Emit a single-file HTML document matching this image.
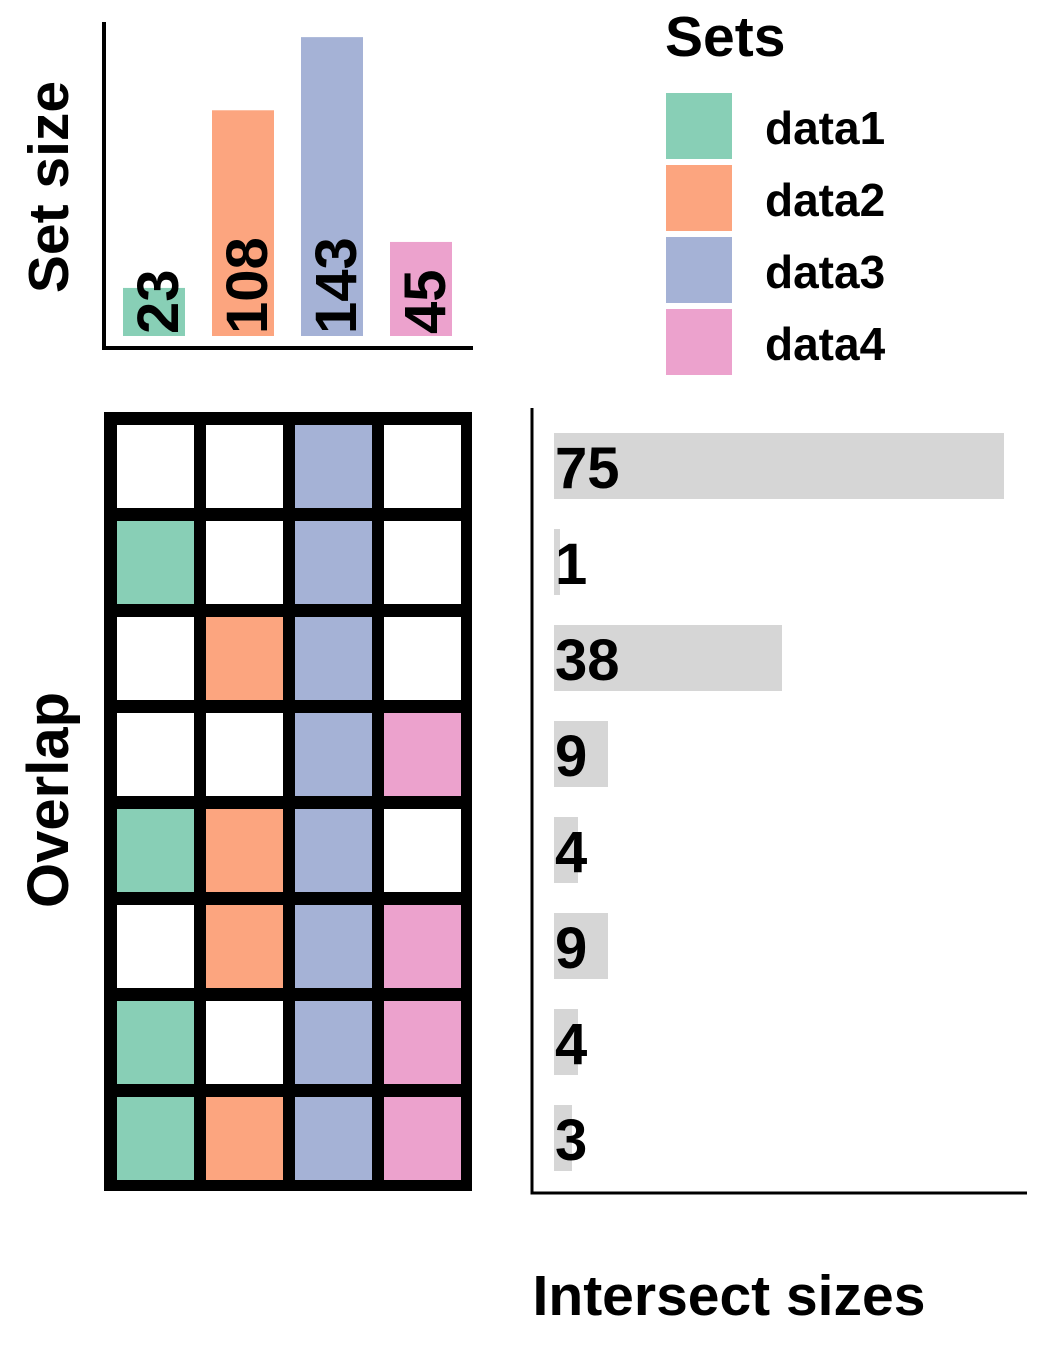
<!DOCTYPE html>
<html><head><meta charset="utf-8"><style>
html,body{margin:0;padding:0;background:#fff}
text{font-family:"Liberation Sans",Arial,sans-serif;font-weight:bold;fill:#000}
</style></head><body>
<svg id="c" width="1050" height="1350" xmlns="http://www.w3.org/2000/svg"></svg>
<script>
const sets=['data1','data2','data3','data4'];
const setSizes=[23,108,143,45];
const setColors=['#88cfb6','#fca57f','#a5b2d6','#eca2cd'];
const intersectSizes=[75,1,38,9,4,9,4,3];
const membership=[[0,0,1,0],[1,0,1,0],[0,1,1,0],[0,0,1,1],[1,1,1,0],[0,1,1,1],[1,0,1,1],[1,1,1,1]];
const NS='http://www.w3.org/2000/svg';
const svg=document.getElementById('c');
function el(t,a,p){const e=document.createElementNS(NS,t);for(const k in a)e.setAttribute(k,a[k]);(p||svg).appendChild(e);return e;}
const ySet=v=>336-v*2.09;
const xSet=i=>123+i*89;
let g=el('g',{});


setSizes.forEach((v,i)=>{
 const r=el('rect',{x:xSet(i),y:ySet(v),width:62,height:336-ySet(v),fill:setColors[i]},g);
 
 
 const t=el('text',{x:0,y:0,'font-size':58,transform:`translate(${xSet(i)+55},334) rotate(-90)`},g);
 t.textContent=v;
 
 
});
let a=el('path',{d:'M104 22 V348 H473',stroke:'#000','stroke-width':4,fill:'none'});


let t=el('text',{x:0,y:0,'font-size':57,'text-anchor':'middle',transform:'translate(68,187) rotate(-90)'});
t.textContent='Set size';


t=el('text',{x:665,y:56,'font-size':57});t.textContent='Sets';


sets.forEach((s,i)=>{
 const r=el('rect',{x:666,y:93+i*72,width:66,height:66,fill:setColors[i]});
 
 
 const tt=el('text',{x:765,y:144+i*72,'font-size':46});tt.textContent=s;
 
 
});
const bg=el('rect',{x:104,y:412,width:368,height:779,fill:'#000'});


membership.forEach((row,r)=>row.forEach((m,c)=>{
 const e=el('rect',{x:117+c*89,y:425+r*96,width:77,height:83,fill:m?setColors[c]:'#fff'});
 
 
}));
t=el('text',{x:0,y:0,'font-size':58,'text-anchor':'middle',transform:'translate(68,800) rotate(-90)'});
t.textContent='Overlap';


const xI=v=>v*6;
intersectSizes.forEach((v,i)=>{
 const cy=466+i*96;
 const r=el('rect',{x:554,y:cy-33,width:Math.max(xI(v),6),height:66,fill:'#d6d6d6'});
 
 
 const tt=el('text',{x:555,y:cy+22,'font-size':58});tt.textContent=v;
 
 
});
a=el('path',{d:'M532 408 V1193 H1027',stroke:'#000','stroke-width':3,fill:'none'});


t=el('text',{x:729,y:1315,'font-size':57,'text-anchor':'middle'});
t.textContent='Intersect sizes';


</script>
</body></html>
